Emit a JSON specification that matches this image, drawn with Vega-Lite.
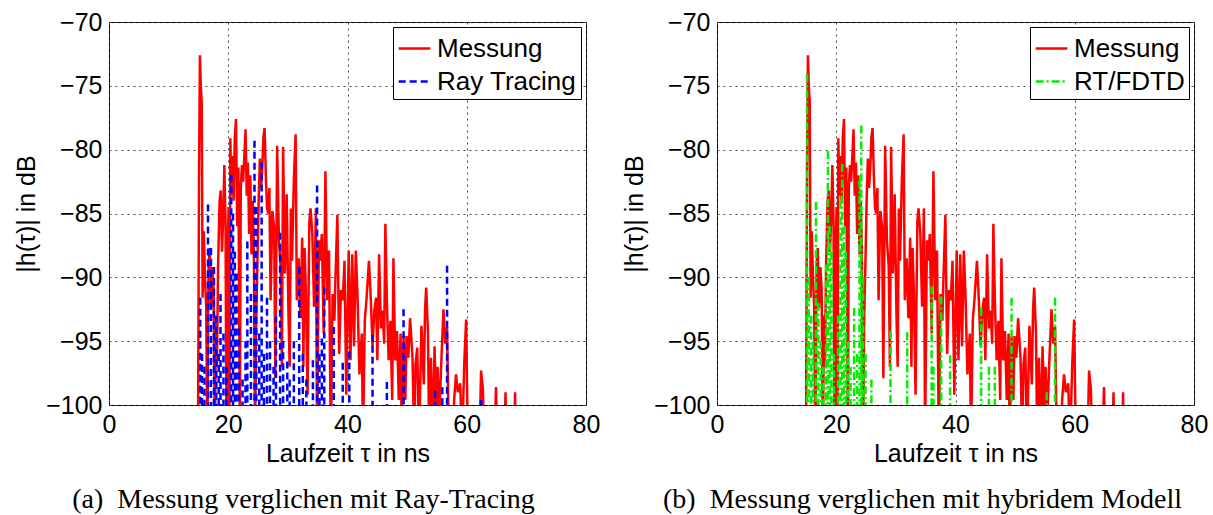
{
"$schema": "https://vega.github.io/schema/vega-lite/v6.json",
"background": "white",
"padding": {"left": 14, "top": 9, "right": 20, "bottom": 3},
"bounds": "flush",
"spacing": 131,
"config": {
  "view": {"stroke": "black", "strokeWidth": 1},
  "axis": {"labelFont": "Liberation Sans", "labelFontSize": 25, "labelColor": "black", "titleFont": "Liberation Sans", "titleFontSize": 25, "titleFontWeight": "normal", "titleColor": "black", "grid": true, "gridColor": "#444", "gridDash": [2, 4], "gridWidth": 1, "ticks": false, "domain": false, "labelPadding": 7, "labelFlush": false},
  "legend": {"orient": "top-right", "offset": 5, "strokeColor": "black", "fillColor": "white", "padding": 4, "labelFont": "Liberation Sans", "labelFontSize": 26, "labelColor": "black", "symbolType": "stroke", "symbolSize": 1000, "symbolStrokeWidth": 2.5, "rowPadding": 2, "labelOffset": 5, "cornerRadius": 0},
  "title": {"font": "Liberation Serif", "fontSize": 28, "fontWeight": "normal", "color": "black"}
},
"datasets": {
"mess": [
{"t":14.9,"v":-106,"s":"Messung"},{"t":15.1,"v":-82,"s":"Messung"},{"t":15.25,"v":-72.6,"s":"Messung"},{"t":15.4,"v":-75,"s":"Messung"},{"t":15.55,"v":-76.3,"s":"Messung"},{"t":15.7,"v":-91.6,"s":"Messung"},{"t":15.9,"v":-86.4,"s":"Messung"},{"t":16.1,"v":-90,"s":"Messung"},{"t":16.3,"v":-92.4,"s":"Messung"},{"t":16.5,"v":-103,"s":"Messung"},{"t":16.7,"v":-89,"s":"Messung"},{"t":16.9,"v":-87.7,"s":"Messung"},{"t":17.1,"v":-92.4,"s":"Messung"},{"t":17.35,"v":-89.2,"s":"Messung"},{"t":17.55,"v":-91,"s":"Messung"},{"t":17.75,"v":-103,"s":"Messung"},{"t":17.95,"v":-93,"s":"Messung"},{"t":18.1,"v":-97,"s":"Messung"},{"t":18.3,"v":-89,"s":"Messung"},{"t":18.55,"v":-84,"s":"Messung"},{"t":18.75,"v":-83.2,"s":"Messung"},{"t":18.95,"v":-88,"s":"Messung"},{"t":19.15,"v":-85.3,"s":"Messung"},{"t":19.35,"v":-81.2,"s":"Messung"},{"t":19.55,"v":-86,"s":"Messung"},{"t":19.7,"v":-103,"s":"Messung"},{"t":19.9,"v":-88,"s":"Messung"},{"t":20.05,"v":-84.5,"s":"Messung"},{"t":20.2,"v":-103,"s":"Messung"},{"t":20.35,"v":-79.1,"s":"Messung"},{"t":20.5,"v":-83.6,"s":"Messung"},{"t":20.7,"v":-80.5,"s":"Messung"},{"t":20.9,"v":-84,"s":"Messung"},{"t":21.1,"v":-79,"s":"Messung"},{"t":21.3,"v":-77.6,"s":"Messung"},{"t":21.5,"v":-86,"s":"Messung"},{"t":21.7,"v":-81.4,"s":"Messung"},{"t":21.95,"v":-103,"s":"Messung"},{"t":22.1,"v":-83,"s":"Messung"},{"t":22.3,"v":-81.2,"s":"Messung"},{"t":22.5,"v":-82.5,"s":"Messung"},{"t":22.7,"v":-80.5,"s":"Messung"},{"t":22.9,"v":-78.4,"s":"Messung"},{"t":23.1,"v":-83.6,"s":"Messung"},{"t":23.3,"v":-81,"s":"Messung"},{"t":23.5,"v":-86.6,"s":"Messung"},{"t":23.7,"v":-82,"s":"Messung"},{"t":23.9,"v":-88.2,"s":"Messung"},{"t":24.1,"v":-84,"s":"Messung"},{"t":24.3,"v":-88,"s":"Messung"},{"t":24.5,"v":-103,"s":"Messung"},{"t":24.7,"v":-93,"s":"Messung"},{"t":24.9,"v":-88.7,"s":"Messung"},{"t":25.1,"v":-84,"s":"Messung"},{"t":25.3,"v":-80.7,"s":"Messung"},{"t":25.5,"v":-83,"s":"Messung"},{"t":25.7,"v":-81.5,"s":"Messung"},{"t":25.9,"v":-79,"s":"Messung"},{"t":26.1,"v":-78.3,"s":"Messung"},{"t":26.3,"v":-82,"s":"Messung"},{"t":26.5,"v":-84.5,"s":"Messung"},{"t":26.7,"v":-85,"s":"Messung"},{"t":26.9,"v":-83,"s":"Messung"},{"t":27.1,"v":-91.8,"s":"Messung"},{"t":27.4,"v":-84.8,"s":"Messung"},{"t":27.7,"v":-86.1,"s":"Messung"},{"t":27.9,"v":-97.9,"s":"Messung"},{"t":28.2,"v":-79.7,"s":"Messung"},{"t":28.5,"v":-87.1,"s":"Messung"},{"t":28.8,"v":-89.2,"s":"Messung"},{"t":29.0,"v":-97,"s":"Messung"},{"t":29.2,"v":-79.8,"s":"Messung"},{"t":29.5,"v":-89.7,"s":"Messung"},{"t":29.8,"v":-83.5,"s":"Messung"},{"t":30.1,"v":-92.9,"s":"Messung"},{"t":30.3,"v":-97,"s":"Messung"},{"t":30.5,"v":-84.6,"s":"Messung"},{"t":30.7,"v":-88.7,"s":"Messung"},{"t":31.0,"v":-82.4,"s":"Messung"},{"t":31.3,"v":-78.8,"s":"Messung"},{"t":31.5,"v":-91.8,"s":"Messung"},{"t":31.8,"v":-88.5,"s":"Messung"},{"t":32.1,"v":-93.2,"s":"Messung"},{"t":32.4,"v":-86.9,"s":"Messung"},{"t":32.6,"v":-97,"s":"Messung"},{"t":32.8,"v":-87.7,"s":"Messung"},{"t":33.0,"v":-90.8,"s":"Messung"},{"t":33.3,"v":-99.2,"s":"Messung"},{"t":33.6,"v":-85.6,"s":"Messung"},{"t":33.8,"v":-84.6,"s":"Messung"},{"t":34.1,"v":-86.6,"s":"Messung"},{"t":34.4,"v":-92.3,"s":"Messung"},{"t":34.7,"v":-84.6,"s":"Messung"},{"t":34.9,"v":-103,"s":"Messung"},{"t":35.2,"v":-87.1,"s":"Messung"},{"t":35.4,"v":-88.7,"s":"Messung"},{"t":35.7,"v":-86.6,"s":"Messung"},{"t":36.0,"v":-94.4,"s":"Messung"},{"t":36.3,"v":-81.7,"s":"Messung"},{"t":36.6,"v":-91.8,"s":"Messung"},{"t":36.9,"v":-87.9,"s":"Messung"},{"t":37.2,"v":-103,"s":"Messung"},{"t":37.5,"v":-91.3,"s":"Messung"},{"t":37.8,"v":-93.4,"s":"Messung"},{"t":38.0,"v":-89.7,"s":"Messung"},{"t":38.3,"v":-85.1,"s":"Messung"},{"t":38.6,"v":-96,"s":"Messung"},{"t":38.9,"v":-91,"s":"Messung"},{"t":39.2,"v":-91.8,"s":"Messung"},{"t":39.5,"v":-88.7,"s":"Messung"},{"t":39.8,"v":-99.2,"s":"Messung"},{"t":40.2,"v":-87.9,"s":"Messung"},{"t":40.5,"v":-96.5,"s":"Messung"},{"t":40.8,"v":-88.2,"s":"Messung"},{"t":41.1,"v":-95.4,"s":"Messung"},{"t":41.4,"v":-87.9,"s":"Messung"},{"t":41.7,"v":-91.8,"s":"Messung"},{"t":42.0,"v":-97.6,"s":"Messung"},{"t":42.4,"v":-94.4,"s":"Messung"},{"t":42.6,"v":-103,"s":"Messung"},{"t":42.9,"v":-93.4,"s":"Messung"},{"t":43.2,"v":-91.6,"s":"Messung"},{"t":43.6,"v":-88.7,"s":"Messung"},{"t":43.9,"v":-91.6,"s":"Messung"},{"t":44.2,"v":-95.4,"s":"Messung"},{"t":44.5,"v":-92.6,"s":"Messung"},{"t":44.8,"v":-91.6,"s":"Messung"},{"t":45.0,"v":-96.5,"s":"Messung"},{"t":45.3,"v":-88.2,"s":"Messung"},{"t":45.6,"v":-94,"s":"Messung"},{"t":45.9,"v":-92.6,"s":"Messung"},{"t":46.15,"v":-95.2,"s":"Messung"},{"t":46.35,"v":-85.8,"s":"Messung"},{"t":46.6,"v":-91.8,"s":"Messung"},{"t":46.9,"v":-96.5,"s":"Messung"},{"t":47.2,"v":-93.4,"s":"Messung"},{"t":47.5,"v":-99.6,"s":"Messung"},{"t":47.7,"v":-88.5,"s":"Messung"},{"t":48.0,"v":-96.5,"s":"Messung"},{"t":48.3,"v":-94.2,"s":"Messung"},{"t":48.6,"v":-99.6,"s":"Messung"},{"t":48.9,"v":-94.4,"s":"Messung"},{"t":49.1,"v":-103,"s":"Messung"},{"t":49.4,"v":-94.6,"s":"Messung"},{"t":49.7,"v":-99.6,"s":"Messung"},{"t":49.9,"v":-94.6,"s":"Messung"},{"t":50.2,"v":-96.3,"s":"Messung"},{"t":50.5,"v":-93.2,"s":"Messung"},{"t":50.9,"v":-96.3,"s":"Messung"},{"t":51.2,"v":-103,"s":"Messung"},{"t":51.4,"v":-96.8,"s":"Messung"},{"t":51.7,"v":-95.5,"s":"Messung"},{"t":52.0,"v":-103,"s":"Messung"},{"t":52.4,"v":-93.8,"s":"Messung"},{"t":52.8,"v":-98.4,"s":"Messung"},{"t":53.0,"v":-92.6,"s":"Messung"},{"t":53.2,"v":-90.8,"s":"Messung"},{"t":53.5,"v":-94.4,"s":"Messung"},{"t":53.7,"v":-103,"s":"Messung"},{"t":54.0,"v":-96.3,"s":"Messung"},{"t":54.3,"v":-103,"s":"Messung"},{"t":54.6,"v":-95.4,"s":"Messung"},{"t":55.0,"v":-103,"s":"Messung"},{"t":55.1,"v":-97,"s":"Messung"},{"t":55.4,"v":-101,"s":"Messung"},{"t":55.7,"v":-97,"s":"Messung"},{"t":56.1,"v":-92.5,"s":"Messung"},{"t":56.4,"v":-95.2,"s":"Messung"},{"t":56.7,"v":-93.9,"s":"Messung"},{"t":57.0,"v":-103,"s":"Messung"},{"t":57.3,"v":-101,"s":"Messung"},{"t":57.6,"v":-103,"s":"Messung"},{"t":57.9,"v":-99.5,"s":"Messung"},{"t":58.2,"v":-97.6,"s":"Messung"},{"t":58.5,"v":-99,"s":"Messung"},{"t":58.9,"v":-98.3,"s":"Messung"},{"t":59.2,"v":-103,"s":"Messung"},{"t":59.6,"v":-96.5,"s":"Messung"},{"t":59.9,"v":-93.3,"s":"Messung"},{"t":60.2,"v":-104,"s":"Messung"},{"t":62.1,"v":-104,"s":"Messung"},{"t":62.4,"v":-97.3,"s":"Messung"},{"t":62.7,"v":-98.7,"s":"Messung"},{"t":63.0,"v":-104,"s":"Messung"},{"t":64.6,"v":-104,"s":"Messung"},{"t":64.9,"v":-98.6,"s":"Messung"},{"t":65.2,"v":-104,"s":"Messung"},{"t":66.3,"v":-104,"s":"Messung"},{"t":66.5,"v":-99,"s":"Messung"},{"t":66.7,"v":-104,"s":"Messung"},{"t":67.9,"v":-104,"s":"Messung"},{"t":68.1,"v":-99,"s":"Messung"},{"t":68.3,"v":-106,"s":"Messung"}
],
"rt": [
{"t":15.3,"v":-91.6,"s":"Ray Tracing"},{"t":15.6,"v":-96,"s":"Ray Tracing"},{"t":16.0,"v":-97,"s":"Ray Tracing"},{"t":16.6,"v":-84.3,"s":"Ray Tracing"},{"t":17.1,"v":-87.7,"s":"Ray Tracing"},{"t":17.6,"v":-89.2,"s":"Ray Tracing"},{"t":18.0,"v":-93,"s":"Ray Tracing"},{"t":18.4,"v":-96,"s":"Ray Tracing"},{"t":18.7,"v":-91.3,"s":"Ray Tracing"},{"t":19.2,"v":-94.4,"s":"Ray Tracing"},{"t":19.7,"v":-97,"s":"Ray Tracing"},{"t":20.5,"v":-82,"s":"Ray Tracing"},{"t":20.8,"v":-85,"s":"Ray Tracing"},{"t":21.1,"v":-88,"s":"Ray Tracing"},{"t":21.4,"v":-89.7,"s":"Ray Tracing"},{"t":21.8,"v":-94,"s":"Ray Tracing"},{"t":22.4,"v":-98,"s":"Ray Tracing"},{"t":22.9,"v":-95,"s":"Ray Tracing"},{"t":23.2,"v":-87.2,"s":"Ray Tracing"},{"t":23.8,"v":-91.3,"s":"Ray Tracing"},{"t":24.4,"v":-79.3,"s":"Ray Tracing"},{"t":24.7,"v":-84.5,"s":"Ray Tracing"},{"t":25.2,"v":-94.4,"s":"Ray Tracing"},{"t":25.6,"v":-81,"s":"Ray Tracing"},{"t":26.0,"v":-96,"s":"Ray Tracing"},{"t":26.5,"v":-91.6,"s":"Ray Tracing"},{"t":27.0,"v":-95,"s":"Ray Tracing"},{"t":27.6,"v":-97,"s":"Ray Tracing"},{"t":28.0,"v":-93,"s":"Ray Tracing"},{"t":28.7,"v":-86.5,"s":"Ray Tracing"},{"t":29.2,"v":-95,"s":"Ray Tracing"},{"t":29.9,"v":-96.6,"s":"Ray Tracing"},{"t":30.3,"v":-98,"s":"Ray Tracing"},{"t":31.0,"v":-95,"s":"Ray Tracing"},{"t":31.9,"v":-89.2,"s":"Ray Tracing"},{"t":32.5,"v":-96,"s":"Ray Tracing"},{"t":33.1,"v":-98,"s":"Ray Tracing"},{"t":34.2,"v":-96.5,"s":"Ray Tracing"},{"t":34.9,"v":-82.8,"s":"Ray Tracing"},{"t":35.3,"v":-96,"s":"Ray Tracing"},{"t":35.7,"v":-94.8,"s":"Ray Tracing"},{"t":36.1,"v":-90.8,"s":"Ray Tracing"},{"t":37.7,"v":-93.9,"s":"Ray Tracing"},{"t":39.2,"v":-96.7,"s":"Ray Tracing"},{"t":40.3,"v":-95.8,"s":"Ray Tracing"},{"t":44.2,"v":-94.5,"s":"Ray Tracing"},{"t":46.6,"v":-98.2,"s":"Ray Tracing"},{"t":49.4,"v":-92.5,"s":"Ray Tracing"},{"t":54.7,"v":-98.9,"s":"Ray Tracing"},{"t":55.9,"v":-98.6,"s":"Ray Tracing"},{"t":56.7,"v":-89.1,"s":"Ray Tracing"},{"t":62.4,"v":-99.6,"s":"Ray Tracing"}
],
"fdtd": [
{"t":15.1,"v":-74.1,"s":"RT/FDTD"},{"t":15.4,"v":-90,"s":"RT/FDTD"},{"t":15.8,"v":-93,"s":"RT/FDTD"},{"t":16.1,"v":-95,"s":"RT/FDTD"},{"t":16.6,"v":-84.1,"s":"RT/FDTD"},{"t":17.0,"v":-92,"s":"RT/FDTD"},{"t":17.4,"v":-95,"s":"RT/FDTD"},{"t":17.8,"v":-97,"s":"RT/FDTD"},{"t":18.3,"v":-89,"s":"RT/FDTD"},{"t":18.6,"v":-80.1,"s":"RT/FDTD"},{"t":18.9,"v":-86,"s":"RT/FDTD"},{"t":19.2,"v":-88,"s":"RT/FDTD"},{"t":19.6,"v":-96,"s":"RT/FDTD"},{"t":20.3,"v":-93,"s":"RT/FDTD"},{"t":20.7,"v":-84,"s":"RT/FDTD"},{"t":21.0,"v":-81.1,"s":"RT/FDTD"},{"t":21.3,"v":-86,"s":"RT/FDTD"},{"t":21.6,"v":-88,"s":"RT/FDTD"},{"t":22.0,"v":-95,"s":"RT/FDTD"},{"t":22.4,"v":-97,"s":"RT/FDTD"},{"t":23.0,"v":-92.4,"s":"RT/FDTD"},{"t":23.5,"v":-96,"s":"RT/FDTD"},{"t":23.9,"v":-82.4,"s":"RT/FDTD"},{"t":24.2,"v":-78.1,"s":"RT/FDTD"},{"t":24.5,"v":-90,"s":"RT/FDTD"},{"t":24.9,"v":-96,"s":"RT/FDTD"},{"t":25.9,"v":-98,"s":"RT/FDTD"},{"t":29.1,"v":-94.2,"s":"RT/FDTD"},{"t":31.9,"v":-94.3,"s":"RT/FDTD"},{"t":36.0,"v":-90.7,"s":"RT/FDTD"},{"t":36.3,"v":-97,"s":"RT/FDTD"},{"t":37.6,"v":-91.5,"s":"RT/FDTD"},{"t":39.1,"v":-96.1,"s":"RT/FDTD"},{"t":44.3,"v":-92.4,"s":"RT/FDTD"},{"t":45.6,"v":-97,"s":"RT/FDTD"},{"t":46.6,"v":-97,"s":"RT/FDTD"},{"t":49.4,"v":-91.6,"s":"RT/FDTD"},{"t":55.3,"v":-99,"s":"RT/FDTD"},{"t":56.7,"v":-91.6,"s":"RT/FDTD"}
]
},
"hconcat": [
{
  "width": 477, "height": 383,
  "title": {"text": "(a)\u00a0\u00a0Messung verglichen mit Ray-Tracing", "orient": "bottom", "anchor": "middle", "dx": -44, "offset": 20},
  "encoding": {
    "x": {"field": "t", "type": "quantitative", "scale": {"domain": [0, 80], "nice": false}, "axis": {"values": [0, 20, 40, 60, 80], "title": "Laufzeit τ in ns", "titlePadding": 4}},
    "y": {"field": "v", "type": "quantitative", "scale": {"domain": [-100, -70], "nice": false, "zero": false}, "axis": {"values": [-100, -95, -90, -85, -80, -75, -70], "title": "|h(τ)| in dB", "titlePadding": 6}},
    "color": {"field": "s", "type": "nominal", "scale": {"domain": ["Messung", "Ray Tracing"], "range": ["#ff0000", "#0000ff"]}, "legend": {"title": null}},
    "strokeDash": {"field": "s", "type": "nominal", "scale": {"domain": ["Messung", "Ray Tracing"], "range": [[1, 0], [7, 4]]}, "legend": {"title": null}}
  },
  "layer": [
    {"data": {"name": "mess"}, "mark": {"type": "line", "clip": true, "strokeWidth": 2.5}},
    {"data": {"name": "rt"}, "mark": {"type": "rule", "clip": true, "strokeWidth": 2.5}, "encoding": {"y2": {"datum": -100}}}
  ]
},
{
  "width": 477, "height": 383,
  "title": {"text": "(b)\u00a0\u00a0Messung verglichen mit hybridem Modell", "orient": "bottom", "anchor": "middle", "dx": -33, "offset": 20},
  "encoding": {
    "x": {"field": "t", "type": "quantitative", "scale": {"domain": [0, 80], "nice": false}, "axis": {"values": [0, 20, 40, 60, 80], "title": "Laufzeit τ in ns", "titlePadding": 4}},
    "y": {"field": "v", "type": "quantitative", "scale": {"domain": [-100, -70], "nice": false, "zero": false}, "axis": {"values": [-100, -95, -90, -85, -80, -75, -70], "title": "|h(τ)| in dB", "titlePadding": 6}},
    "color": {"field": "s", "type": "nominal", "scale": {"domain": ["Messung", "RT/FDTD"], "range": ["#ff0000", "#00ee00"]}, "legend": {"title": null}},
    "strokeDash": {"field": "s", "type": "nominal", "scale": {"domain": ["Messung", "RT/FDTD"], "range": [[1, 0], [8, 3, 2, 3]]}, "legend": {"title": null}}
  },
  "layer": [
    {"data": {"name": "mess"}, "mark": {"type": "line", "clip": true, "strokeWidth": 2.5}},
    {"data": {"name": "fdtd"}, "mark": {"type": "rule", "clip": true, "strokeWidth": 2.5}, "encoding": {"y2": {"datum": -100}}}
  ]
}
],
"resolve": {"scale": {"color": "independent", "strokeDash": "independent", "x": "independent", "y": "independent"}, "legend": {"color": "independent", "strokeDash": "independent"}}
}
